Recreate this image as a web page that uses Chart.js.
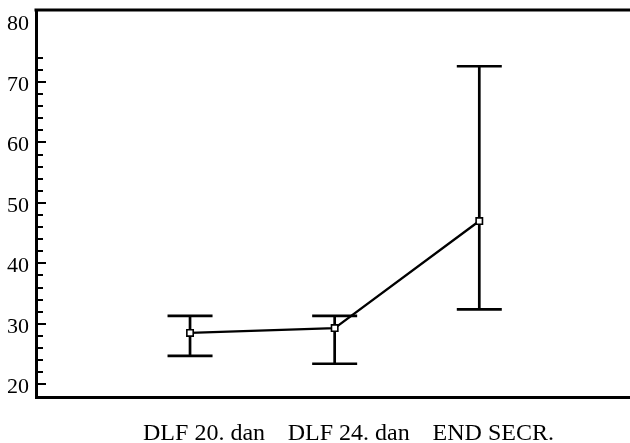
<!DOCTYPE html>
<html>
<head>
<meta charset="utf-8">
<script src="https://cdn.jsdelivr.net/npm/chart.js@4/dist/chart.umd.min.js"></script>
<style>
html,body{margin:0;padding:0;background:#fff;}
#wrap{width:630px;height:443px;}
</style>
</head>
<body>
<div id="wrap"><canvas id="c" width="630" height="443"></canvas></div>
<script>
// ---- data ----
const categories = ["DLF 20. dan", "DLF 24. dan", "END SECR."];
const xPositions = [1, 2, 3];
const meanValues = [28.5, 29.3, 47.0];
const upperValues = [31.3, 31.3, 72.6];
const lowerValues = [24.7, 23.4, 32.4];
const yTickLabels = [20, 30, 40, 50, 60, 70, 80];
const minorTickValues = [20,22,24,26,28,30,32,34,36,38,40,42,44,46,48,50,52,54,56,58,60,62,64,66,68,70,72,74];

const FONT = "'Liberation Serif', 'Times New Roman', serif";

const framePlugin = {
  id: 'frame',
  beforeDatasetsDraw(chart) {
    const ctx = chart.ctx;
    const xs = chart.scales.x, ys = chart.scales.y;
    const a = chart.chartArea;
    ctx.save();
    ctx.strokeStyle = '#000';
    // top border
    ctx.lineWidth = 3;
    ctx.beginPath();
    ctx.moveTo(a.left - 1.5, a.top);
    ctx.lineTo(a.right, a.top);
    ctx.stroke();
    // inward ticks
    ctx.lineWidth = 2;
    minorTickValues.forEach(v => {
      const y = Math.round(ys.getPixelForValue(v));
      const len = (v % 10 === 0) ? 10 : 7;
      ctx.beginPath();
      ctx.moveTo(a.left, y);
      ctx.lineTo(a.left + len, y);
      ctx.stroke();
    });
    // error bars
    ctx.lineWidth = 2.7;
    const cap = 22.5;
    xPositions.forEach((xv, i) => {
      const x = xs.getPixelForValue(xv);
      const yh = ys.getPixelForValue(upperValues[i]);
      const yl = ys.getPixelForValue(lowerValues[i]);
      ctx.beginPath();
      ctx.moveTo(x, yh); ctx.lineTo(x, yl);
      ctx.moveTo(x - cap, yh); ctx.lineTo(x + cap, yh);
      ctx.moveTo(x - cap, yl); ctx.lineTo(x + cap, yl);
      ctx.stroke();
    });
    ctx.restore();
  }
};

new Chart(document.getElementById('c'), {
  type: 'line',
  data: {
    datasets: [{
      data: xPositions.map((x, i) => ({x: x, y: meanValues[i]})),
      borderColor: '#000',
      borderWidth: 2.3,
      tension: 0,
      pointStyle: 'rect',
      pointRadius: 4.5,
      pointBorderWidth: 1.6,
      pointBorderColor: '#000',
      pointBackgroundColor: '#fff'
    }]
  },
  options: {
    responsive: false,
    animation: false,
    layout: { autoPadding: false, padding: { top: 10, right: 0, left: 0, bottom: 0 } },
    plugins: { legend: { display: false }, tooltip: { enabled: false } },
    scales: {
      x: {
        type: 'linear',
        min: -0.065,
        max: 4.042,
        afterBuildTicks(scale) { scale.ticks = xPositions.map(v => ({value: v})); },
        afterFit(scale) { scale.height = 46; scale.paddingLeft = 0; scale.paddingRight = 0; },
        grid: { display: false, drawTicks: false },
        border: { display: true, color: '#000', width: 3 },
        ticks: {
          color: '#000',
          font: { family: FONT, size: 24 },
          padding: 22,
          labelOffset: 14,
          maxRotation: 0,
          autoSkip: false,
          callback: (v) => { const i = xPositions.indexOf(v); return i >= 0 ? categories[i] : ''; }
        }
      },
      y: {
        type: 'linear',
        min: 17.9,
        max: 81.9,
        afterBuildTicks(scale) { scale.ticks = yTickLabels.map(v => ({value: v})); },
        afterFit(scale) { scale.width = 36; scale.paddingTop = 0; scale.paddingBottom = 0; },
        grid: { display: false, drawTicks: false },
        border: { display: true, color: '#000', width: 3 },
        ticks: {
          color: '#000',
          font: { family: FONT, size: 22 },
          padding: 7,
          labelOffset: 3,
          autoSkip: false
        }
      }
    }
  },
  plugins: [framePlugin]
});
</script>
</body>
</html>
